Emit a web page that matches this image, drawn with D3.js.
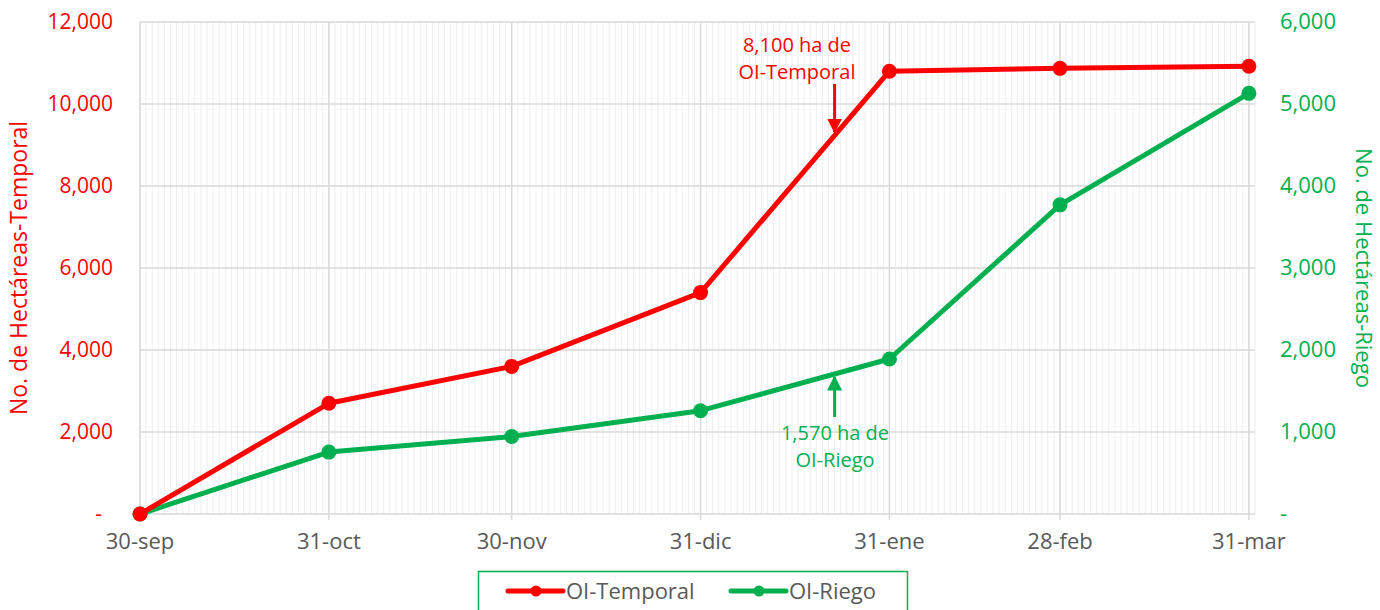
<!DOCTYPE html>
<html><head><meta charset="utf-8">
<script src="https://cdn.jsdelivr.net/npm/d3@7"></script>
<style>
html,body{margin:0;padding:0;background:#fff;}
svg{display:block;font-family:"Open Sans",sans-serif;}
</style></head>
<body><svg id="c" width="1380" height="610"></svg>
<script>
const dates = ["2022-09-30","2022-10-31","2022-11-30","2022-12-31","2023-01-31","2023-02-28","2023-03-31"];
const dateLabels = ["30-sep","31-oct","30-nov","31-dic","31-ene","28-feb","31-mar"];
const temporal = [0, 2700, 3600, 5400, 10800, 10870, 10920];
const riego = [0, 755, 945, 1260, 1890, 3770, 5130];
const leftTicks = [0, 2000, 4000, 6000, 8000, 10000, 12000];
const rightTicks = [0, 1000, 2000, 3000, 4000, 5000, 6000];
const annoDate = "2023-01-22";
const annoTemporal = ["8,100 ha de", "OI-Temporal"];
const annoRiego = ["1,570 ha de", "OI-Riego"];
const xDomain = ["2022-09-30", "2023-04-01"];

const RED = "#FF0000", GREEN = "#00B050", GREY = "#595959";
const svg = d3.select("#c");
const m = {l:140, r:1380-1255, t:22, b:610-514};
const W = 1380, H = 610;
const parse = d3.utcParse("%Y-%m-%d");
const x = d3.scaleUtc().domain(xDomain.map(parse)).range([m.l, W - m.r]);
const yL = d3.scaleLinear().domain([0, 12000]).range([H - m.b, m.t]);
const yR = d3.scaleLinear().domain([0, 6000]).range([H - m.b, m.t]);
const fmt = v => v === 0 ? "-" : d3.format(",")(v);

// minor vertical gridlines (daily)
const days = d3.utcDay.range(parse(xDomain[0]), d3.utcDay.offset(parse(xDomain[1]),1));
svg.append("g").selectAll("line").data(days).join("line")
  .attr("x1", d => x(d)).attr("x2", d => x(d))
  .attr("y1", yL(12000)).attr("y2", yL(0))
  .attr("stroke", "#eeeeee").attr("stroke-width", 1);

// horizontal gridlines
svg.append("g").selectAll("line").data(leftTicks).join("line")
  .attr("x1", x.range()[0]).attr("x2", x.range()[1])
  .attr("y1", d => yL(d)).attr("y2", d => yL(d))
  .attr("stroke", "#d9d9d9").attr("stroke-width", 1.5);

// major vertical gridlines
const dts = dates.map(parse);
svg.append("g").selectAll("line").data(dts).join("line")
  .attr("x1", d => x(d)).attr("x2", d => x(d))
  .attr("y1", yL(12000)).attr("y2", yL(0) + 6)
  .attr("stroke", "#d9d9d9").attr("stroke-width", 1.5);

// x axis labels
svg.append("g").selectAll("text").data(dts).join("text")
  .attr("x", d => x(d)).attr("y", 549)
  .attr("text-anchor", "middle").attr("fill", GREY)
  .style("font-size", "22px")
  .text((d, i) => dateLabels[i]);

// left axis labels
svg.append("g").selectAll("text").data(leftTicks).join("text")
  .attr("x", d => d === 0 ? 102 : 113).attr("y", d => yL(d) + 7)
  .attr("text-anchor", "end").attr("fill", RED)
  .style("font-size", "21px").text(fmt);

// right axis labels
svg.append("g").selectAll("text").data(rightTicks).join("text")
  .attr("x", 1280).attr("y", d => yR(d) + 7)
  .attr("text-anchor", "start").attr("fill", GREEN)
  .style("font-size", "22px").text(fmt);

// axis titles
svg.append("text").attr("transform", "translate(27,268) rotate(-90)")
  .attr("text-anchor", "middle").attr("fill", RED).style("font-size", "23px")
  .text("No. de Hectáreas-Temporal");
svg.append("text").attr("transform", "translate(1356,268) rotate(90)")
  .attr("text-anchor", "middle").attr("fill", GREEN).style("font-size", "22px")
  .text("No. de Hectáreas-Riego");

// series
function series(vals, y, color) {
  const pts = dts.map((d, i) => [x(d), y(vals[i])]);
  svg.append("path").datum(pts)
    .attr("d", d3.line())
    .attr("fill", "none").attr("stroke", color).attr("stroke-width", 5)
    .attr("stroke-linejoin", "round");
  svg.append("g").selectAll("circle").data(pts).join("circle")
    .attr("cx", d => d[0]).attr("cy", d => d[1]).attr("r", 7.5)
    .attr("fill", color);
}
series(riego, yR, GREEN);
series(temporal, yL, RED);

// annotations
const ax = x(parse(annoDate));
svg.append("defs").html(`
<marker id="ar" viewBox="0 0 10 10" refX="9" refY="5" markerWidth="5" markerHeight="5" orient="auto"><path d="M0,0L10,5L0,10z" fill="${RED}"/></marker>
<marker id="ag" viewBox="0 0 10 10" refX="9" refY="5" markerWidth="5" markerHeight="5" orient="auto"><path d="M0,0L10,5L0,10z" fill="${GREEN}"/></marker>`);
svg.append("line").attr("x1", ax).attr("x2", ax).attr("y1", 84).attr("y2", 132)
  .attr("stroke", RED).attr("stroke-width", 3).attr("marker-end", "url(#ar)");
svg.append("line").attr("x1", ax).attr("x2", ax).attr("y1", 417).attr("y2", 377)
  .attr("stroke", GREEN).attr("stroke-width", 3).attr("marker-end", "url(#ag)");
function anno(lines, cx, y0, color) {
  const t = svg.append("text").attr("text-anchor", "middle").attr("fill", color)
    .style("font-size", "20px");
  t.selectAll("tspan").data(lines).join("tspan")
    .attr("x", cx).attr("y", (d, i) => y0 + i * 27).text(d => d);
}
anno(annoTemporal, 797, 52, RED);
anno(annoRiego, 835, 440, GREEN);

// legend
const lg = svg.append("g");
lg.append("rect").attr("x", 478.5).attr("y", 571.5).attr("width", 429).attr("height", 50)
  .attr("fill", "#fff").attr("stroke", GREEN).attr("stroke-width", 1.5);
const items = [{n:"OI-Temporal", c:RED, x:508}, {n:"OI-Riego", c:GREEN, x:731}];
items.forEach(it => {
  lg.append("line").attr("x1", it.x).attr("x2", it.x + 55).attr("y1", 591).attr("y2", 591)
    .attr("stroke", it.c).attr("stroke-width", 5).attr("stroke-linecap", "round");
  lg.append("circle").attr("cx", it.x + 28).attr("cy", 591).attr("r", 5.5).attr("fill", it.c);
  lg.append("text").attr("x", it.x + 58).attr("y", 599).attr("fill", GREY)
    .style("font-size", "22px").text(it.n);
});
</script></body></html>
